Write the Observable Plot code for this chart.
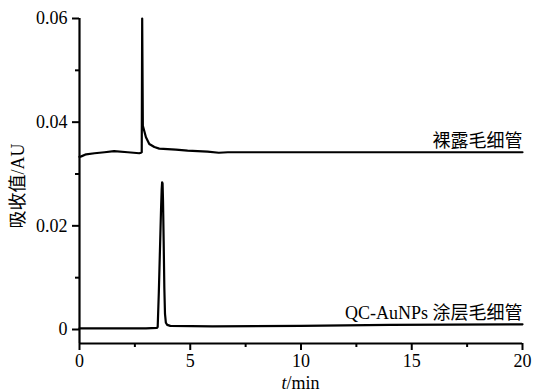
<!DOCTYPE html>
<html>
<head>
<meta charset="utf-8">
<script src="https://cdn.jsdelivr.net/npm/d3@7"></script>
<script src="https://cdn.jsdelivr.net/npm/@observablehq/plot@0.6"></script>
<style>
  html, body { margin: 0; padding: 0; background: #fff; }
  svg text { font-family: 'Liberation Serif', 'Noto Sans CJK SC', serif !important; font-variant: normal !important; }
</style>
</head>
<body>
<div id="chart"></div>
<script>
// Bare capillary (top trace)
const tBare = [0, 0.08, 0.3, 0.68, 1.13, 1.56, 2.18, 2.70, 2.78, 2.81, 2.83, 2.86, 3.0, 3.15, 3.38, 3.6, 4.35, 4.88, 5.78, 6.29, 6.7, 10, 15, 20];
const vBare = [0.0333, 0.0334, 0.0338, 0.0340, 0.0342, 0.0344, 0.0342, 0.0340, 0.0341, 0.0342, 0.0600, 0.0393, 0.0371, 0.0358, 0.0352, 0.0349, 0.0347, 0.0345, 0.0343, 0.0341, 0.0342, 0.0342, 0.0342, 0.0342];

// QC-AuNPs coated capillary (bottom trace)
const tCoat = [0, 1, 2, 3, 3.5, 3.53, 3.58, 3.63, 3.68, 3.71, 3.73, 3.75, 3.77, 3.80, 3.83, 3.86, 3.90, 3.96, 4.1, 6, 10, 14, 20];
const vCoat = [0.0002, 0.0002, 0.0002, 0.0002, 0.0003, 0.0005, 0.007, 0.015, 0.023, 0.027, 0.0284, 0.0282, 0.025, 0.017, 0.008, 0.003, 0.0013, 0.0009, 0.0007, 0.0006, 0.0007, 0.0009, 0.0010];

// Trace labels
const labelTexts = ["裸露毛细管", "QC-AuNPs 涂层毛细管"];
const labelT = [20, 20];
const labelV = [0.0342, 0.0010];

// Axes
const xMajor = [0, 5, 10, 15, 20];
const xMinor = [2.5, 7.5, 12.5, 17.5];
const xTickLabels = ["0", "5", "10", "15", "20"];
const yMajor = [0, 0.02, 0.04, 0.06];
const yMinor = [0.01, 0.03, 0.05];
const yTickLabels = ["0", "0.02", "0.04", "0.06"];
const xDomain = [0, 20];
const yDomain = [-0.0027, 0.06];

const bare = tBare.map((t, i) => ({t, v: vBare[i]}));
const coat = tCoat.map((t, i) => ({t, v: vCoat[i]}));
const labels = labelTexts.map((s, i) => ({s, t: labelT[i], v: labelV[i]}));

const FONT = "'Liberation Serif', 'Noto Sans CJK SC', serif";

const chart = Plot.plot({
  width: 534,
  height: 392,
  marginLeft: 79,
  marginRight: 12,
  marginTop: 18,
  marginBottom: 49,
  style: {fontFamily: FONT, fontSize: "18px", color: "#000", background: "#fff", overflow: "visible"},
  x: {domain: xDomain},
  y: {domain: yDomain},
  marks: [
    Plot.axisX(xMajor, {tickSize: 7, tickPadding: 4, strokeWidth: 2, tickFormat: (d, i) => xTickLabels[i], label: null, fontSize: 18, fontFamily: FONT}),
    Plot.axisX(xMinor, {tickSize: 4, strokeWidth: 2, tickFormat: () => "", label: null}),
    Plot.axisY(yMajor, {tickSize: 7, tickPadding: 5, strokeWidth: 2, tickFormat: (d, i) => yTickLabels[i], label: null, fontSize: 18, fontFamily: FONT}),
    Plot.axisY(yMinor, {tickSize: 4, strokeWidth: 2, tickFormat: () => "", label: null}),
    Plot.ruleX([xDomain[0]], {y1: yDomain[0], y2: yDomain[1], strokeWidth: 2.2, stroke: "#000"}),
    Plot.ruleY([yDomain[0]], {x1: xDomain[0], x2: xDomain[1], strokeWidth: 2.2, stroke: "#000"}),
    Plot.line(bare, {x: "t", y: "v", stroke: "#000", strokeWidth: 2.2}),
    Plot.line(coat, {x: "t", y: "v", stroke: "#000", strokeWidth: 2.2}),
    Plot.text(labels, {x: "t", y: "v", text: "s", textAnchor: "end", lineAnchor: "bottom", dy: -5, fontSize: 18, fontFamily: FONT, fill: "#000"})
  ]
});

// Axis titles (mixed italic for t)
const svg = d3.select(chart);
svg.selectAll("text").style("font-family", FONT).style("font-variant", "normal");
const xs = chart.scale("x"), ys = chart.scale("y");
const xt = svg.append("text")
  .attr("x", xs.apply((xDomain[0] + xDomain[1]) / 2))
  .attr("y", 389)
  .attr("text-anchor", "middle")
  .attr("font-family", FONT)
  .attr("font-size", 18)
  .attr("fill", "#000");
xt.append("tspan").attr("font-style", "italic").text("t");
xt.append("tspan").text("/min");

svg.append("text")
  .attr("transform", `translate(${24},${ys.apply(0.0276)}) rotate(-90)`)
  .attr("text-anchor", "middle")
  .attr("font-family", FONT)
  .attr("font-size", 18)
  .attr("fill", "#000")
  .text("吸收值/AU");

document.getElementById("chart").appendChild(chart);
</script>
</body>
</html>
